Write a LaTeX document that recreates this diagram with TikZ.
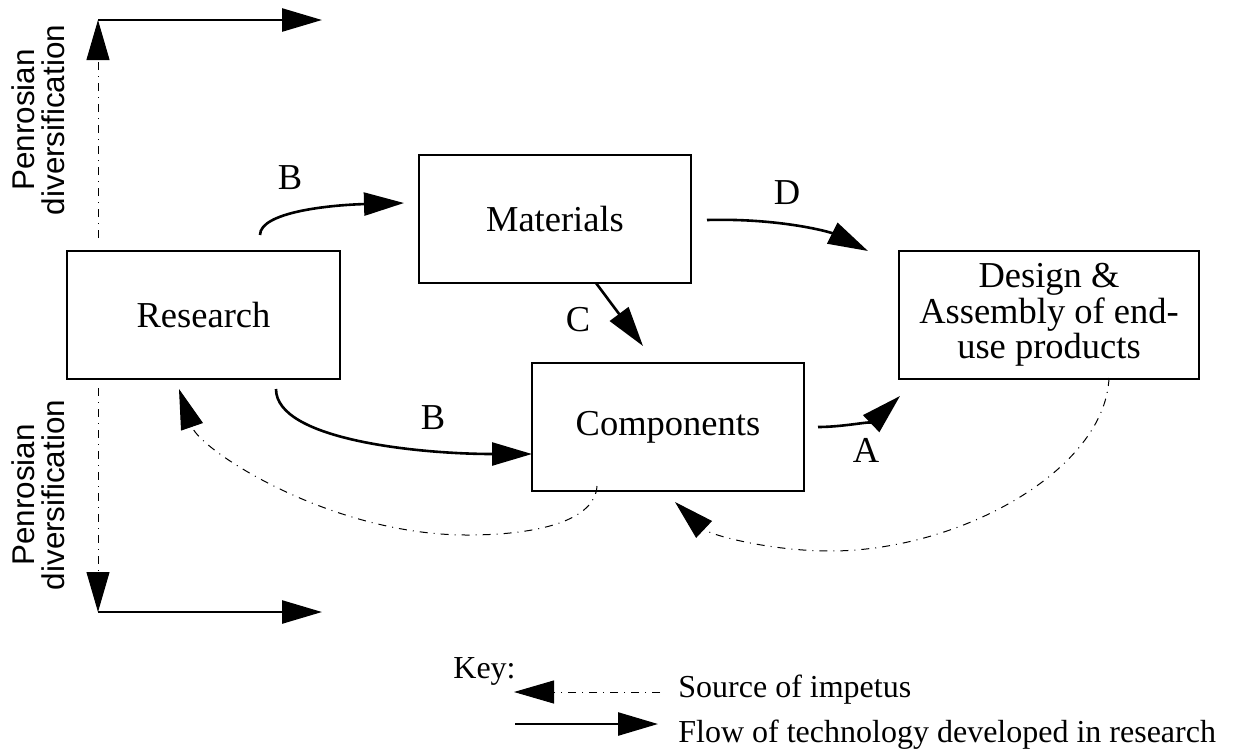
\documentclass[tikz,border=0pt]{standalone}
\usepackage{fontspec}
\setmainfont{Liberation Serif}
\setsansfont{Liberation Sans}
\usetikzlibrary {arrows.meta}

\begin{document}
\begin{tikzpicture}[x=0.5pt,y=-0.5pt,
  box/.style={draw,line width=1pt,minimum height=64pt,inner sep=0pt,font=\fontsize{18.25}{16.25}\selectfont,align=center},
  lbl/.style={inner sep=0pt,font=\fontsize{18.25}{20}\selectfont},
  keytext/.style={inner sep=0pt,anchor=base west,font=\fontsize{16}{18}\selectfont},
  penrose/.style={inner sep=0pt,rotate=90,align=center,font=\sffamily\fontsize{15.7}{15}\selectfont},
  flow/.style={line width=1.3pt,-{Triangle[length=20pt,width=11.5pt]}},
  impetus/.style={line width=0.5pt,dash pattern=on 4pt off 3pt on 0.5pt off 3pt,-{Triangle[length=20pt,width=11.5pt]}}]
\useasboundingbox (0,0) rectangle (1233,751);

\node[box,minimum width=136.5pt] (R) at (203.5,315) {Research};

\node[box,minimum width=136pt] (M) at (555,219) {Materials};

\node[box,minimum width=136pt] (C) at (668,427) {Components};

\node[box,minimum width=150pt] (D) at (1049,315) {Design \&\\Assembly of end-\\use products};

\node[penrose] (P1) at (38,120) {Penrosian\\diversification};

\node[penrose] (P2) at (38,495) {Penrosian\\diversification};

\node[lbl] (LB1) at (290,178) {B};

\node[lbl] (LC) at (578,320) {C};

\node[lbl] (LD) at (787,193) {D};

\node[lbl] (LB2) at (433,418) {B};

\node[lbl] (LA) at (866,450) {A};

% end points of the connectors
\coordinate (U1) at (98,238);
\coordinate (U2) at (98,20);
\coordinate (U3) at (322,20);
\coordinate (V1) at (98,388);
\coordinate (V2) at (98,612);
\coordinate (V3) at (322,612);

\coordinate (B1s) at (260,235);
\coordinate (B1e) at (404,203);
\coordinate (B2s) at (276,389);
\coordinate (B2e) at (532,454);
\coordinate (Cs) at (596,283);
\coordinate (Ce) at (643,346);
\coordinate (Ds) at (707,220);
\coordinate (De) at (868,251);
\coordinate (As) at (818,427);
\coordinate (Ae) at (900,396);

\coordinate (I1s) at (597,486);
\coordinate (I1m) at (467,535);
\coordinate (I1e) at (179,389);
\coordinate (I2s) at (1109,378);
\coordinate (I2m) at (830,551);
\coordinate (I2e) at (675,502);

\draw[impetus] (U1) -- (U2);

\draw[flow] (U2) -- (U3);

\draw[impetus] (V1) -- (V2);

\draw[flow] (V2) -- (V3);

\draw[flow] (B1s) .. controls (260,212) and (330,205) .. (B1e);

\draw[flow] (B2s) .. controls (276,440) and (420,454) .. (B2e);

\draw[flow] (Cs) -- (Ce);

\draw[flow] (Ds) .. controls (780,218) and (830,232) .. (De);

\draw[flow] (As) .. controls (845,427) and (875,420) .. (Ae);

\draw[impetus] (I1s) .. controls (595,520) and (540,535) .. (I1m) .. controls (330,535) and (200,450) .. (I1e);

\draw[impetus] (I2s) .. controls (1105,470) and (960,551) .. (I2m) .. controls (770,551) and (710,535) .. (I2e);

% key
\node[keytext] (K) at (453,678) {Key:};

\node[keytext] (KS) at (678,697) {Source of impetus};

\node[keytext] (KF) at (678,742) {Flow of technology developed in research};

\coordinate (KSs) at (660,692);
\coordinate (KSe) at (514,692);
\coordinate (KFs) at (515,724);
\coordinate (KFe) at (658,724);

\draw[impetus] (KSs) -- (KSe);

\draw[flow] (KFs) -- (KFe);

\end{tikzpicture}
\end{document}
